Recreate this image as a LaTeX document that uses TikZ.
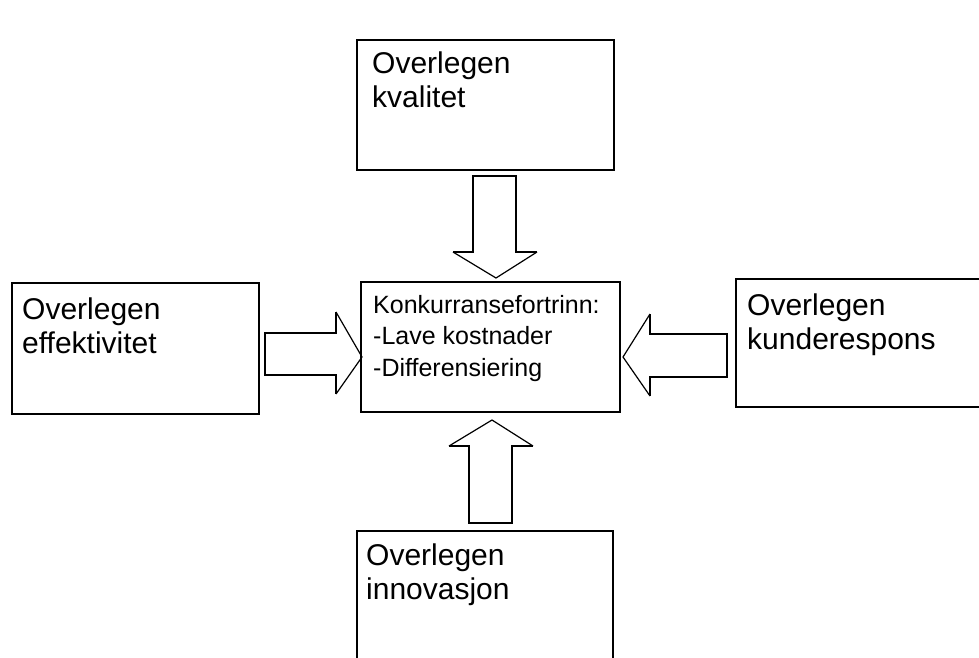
\documentclass[tikz,border=0pt]{standalone}
\usepackage{fontspec}
\setmainfont{Liberation Sans}
\begin{document}
\begin{tikzpicture}[x=1pt,y=-1pt,
  box/.style={draw=black,line width=2pt,fill=white,inner sep=0pt,outer sep=0pt},
  bigtext/.style={anchor=base west,inner sep=0pt,align=left,font=\fontsize{30pt}{34pt}\selectfont},
  smalltext/.style={anchor=base west,inner sep=0pt,align=left,font=\fontsize{25pt}{31.5pt}\selectfont},
  shaft/.style={draw=black,line width=2pt,line join=miter},
  head/.style={draw=black,line width=1.2pt}]
\useasboundingbox[fill=white] (0,0) rectangle (979,657);
\clip (0,0) rectangle (979,657);
% boxes
\node[box,minimum width=257pt,minimum height=130pt] (top) at (485.5,105) {};
\node[box,minimum width=247pt,minimum height=131pt] (left) at (135.5,348.5) {};
\node[box,minimum width=259pt,minimum height=130pt] (center) at (490.5,347) {};
\node[box,minimum width=254pt,minimum height=128.5pt] (right) at (863,343) {};
\node[box,minimum width=256pt,minimum height=168pt] (bottom) at (485,615) {};
% texts (anchored at the baseline of the last line)
\node[bigtext] (ttop) at (372,107) {Overlegen\\kvalitet};
\node[bigtext] (tleft) at (22,353) {Overlegen\\effektivitet};
\node[bigtext] (tright) at (747,349) {Overlegen\\kunderespons};
\node[bigtext] (tbottom) at (366,599) {Overlegen\\innovasjon};
\node[smalltext] (tcenter) at (373,376) {Konkurransefortrinn:\\-Lave kostnader\\-Differensiering};
% top arrow (down)
\draw[shaft] (453,252) -- (473,252) -- (473,176) -- (516,176) -- (516,252) -- (537,252);
\draw[head] (453,252) -- (496,278) -- (537,252);
% left arrow (right)
\draw[shaft] (336,312) -- (336,333) -- (265,333) -- (265,375) -- (336,375) -- (336,394);
\draw[head] (336,312) -- (362,357) -- (336,394);
% right arrow (left)
\draw[shaft] (650,314) -- (650,334) -- (727,334) -- (727,377) -- (650,377) -- (650,396);
\draw[head] (650,314) -- (623,357) -- (650,396);
% bottom arrow (up)
\draw[shaft] (449,446) -- (469,446) -- (469,523) -- (512,523) -- (512,446) -- (533,446);
\draw[head] (449,446) -- (492,420) -- (533,446);
\end{tikzpicture}
\end{document}
